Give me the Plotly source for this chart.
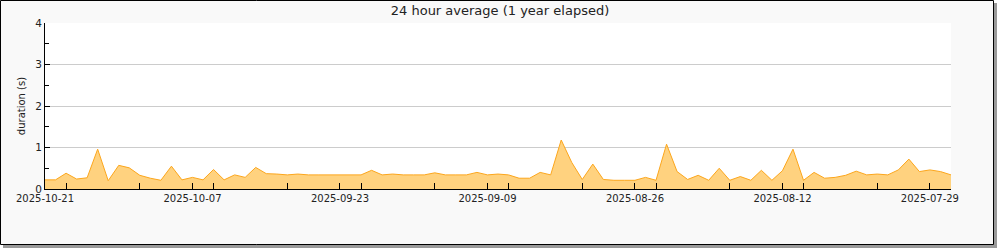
import pandas as pd
import plotly.graph_objects as go

# ---- data (newest first, one point per day) ----
end_date = "2025-10-21"
durations = [
    0.22, 0.22, 0.38, 0.24, 0.27, 0.96, 0.20, 0.57, 0.51, 0.33,
    0.26, 0.21, 0.55, 0.22, 0.28, 0.22, 0.47, 0.22, 0.34, 0.28,
    0.52, 0.37, 0.36, 0.34, 0.36, 0.34, 0.34, 0.34, 0.34, 0.34,
    0.34, 0.45, 0.34, 0.36, 0.34, 0.34, 0.34, 0.39, 0.34, 0.34,
    0.34, 0.40, 0.34, 0.36, 0.34, 0.26, 0.26, 0.40, 0.34, 1.18,
    0.64, 0.23, 0.60, 0.23, 0.21, 0.21, 0.21, 0.28, 0.21, 1.08,
    0.42, 0.23, 0.33, 0.21, 0.50, 0.21, 0.30, 0.21, 0.45, 0.21,
    0.44, 0.96, 0.21, 0.40, 0.26, 0.28, 0.33, 0.43, 0.34, 0.36,
    0.34, 0.46, 0.72, 0.42, 0.46, 0.42, 0.34,
]
dates = pd.date_range(end=end_date, periods=len(durations), freq="D")[::-1]
x_range = [dates[0], dates[-1]]
y_ticks = [0, 1, 2, 3, 4]
title_text = "24 hour average (1 year elapsed)"
y_title = "duration (s)"

W, H = 1000, 250
L, R, T, B = 45, 49, 23, 61
PW, PH = W - L - R, H - T - B


def px_x(p):
    return (p - L) / PW


def px_y(p):
    return (H - B - p) / PH


fig = go.Figure()
fig.add_trace(go.Scatter(
    x=dates, y=durations, mode="lines",
    line=dict(color="#fca61c", width=1),
    fill="tozeroy", fillcolor="#ffd27f",
    hoverinfo="x+y", showlegend=False,
))

shapes = [
    # shadow
    dict(type="rect", xref="paper", yref="paper", layer="below",
         x0=px_x(3), x1=px_x(997), y0=px_y(3), y1=px_y(248),
         fillcolor="#9a9a9a", line=dict(width=0)),
    # frame
    dict(type="rect", xref="paper", yref="paper", layer="below",
         x0=px_x(0.5), x1=px_x(993.5), y0=px_y(0.5), y1=px_y(244.5),
         fillcolor="#f9f9f9", line=dict(color="black", width=1)),
    # plot area
    dict(type="rect", xref="paper", yref="paper", layer="below",
         x0=0, x1=1, y0=0, y1=1,
         fillcolor="white", line=dict(width=0)),
]

fig.update_layout(
    width=W, height=H,
    margin=dict(l=L, r=R, t=T, b=B, pad=0),
    paper_bgcolor="white", plot_bgcolor="white",
    font=dict(family="DejaVu Sans", size=10, color="#222"),
    title=dict(text=title_text, x=0.5, xanchor="center", xref="container",
               y=1 - 10.5 / H, yanchor="middle", yref="container",
               font=dict(size=13, color="#222")),
    shapes=shapes,
    xaxis=dict(
        type="date", range=x_range,
        tick0=end_date, dtick=14 * 86400000, tickformat="%Y-%m-%d",
        ticks="inside", ticklen=6, tickcolor="black", tickwidth=1,
        minor=dict(dtick=7 * 86400000, ticks="inside", ticklen=6,
                   tickcolor="black", showgrid=False),
        showgrid=False, zeroline=False,
        showline=True, linecolor="black", linewidth=1,
        tickfont=dict(size=10, color="#222"),
    ),
    yaxis=dict(
        range=[0, 4], tickvals=y_ticks,
        ticks="inside", ticklen=5, tickcolor="black", tickwidth=1,
        minor=dict(dtick=0.5, ticks="inside", ticklen=4,
                   tickcolor="black", showgrid=False),
        showgrid=True, gridcolor="#cccccc", gridwidth=1,
        zeroline=False, showline=True, linecolor="black", linewidth=1,
        tickfont=dict(size=10.5, color="#222"),
        title=dict(text=y_title, font=dict(size=10, color="#222"), standoff=7),
    ),
)

fig.write_html("out.html")
